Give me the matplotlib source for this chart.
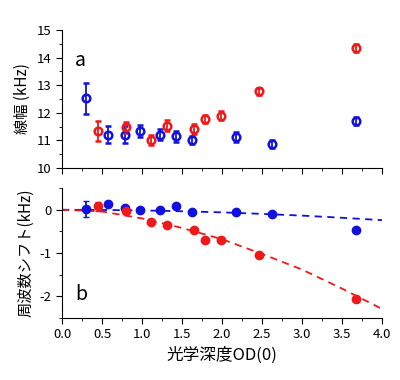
import matplotlib
matplotlib.use('Agg')
import matplotlib.pyplot as plt
from matplotlib.ticker import MultipleLocator

plt.rcParams['font.family'] = ['Noto Sans CJK JP', 'DejaVu Sans']
plt.rcParams['axes.unicode_minus'] = False

# (a) linewidth, kHz
blue_od = [0.30, 0.57, 0.79, 0.975, 1.23, 1.425, 1.625, 2.18, 2.63, 3.67]
blue_width = [12.52, 11.21, 11.21, 11.33, 11.21, 11.15, 11.01, 11.13, 10.87, 11.70]
blue_width_err = [0.55, 0.30, 0.30, 0.22, 0.20, 0.20, 0.15, 0.18, 0.15, 0.15]

red_od = [0.45, 0.80, 1.11, 1.31, 1.65, 1.79, 1.99, 2.46, 3.67]
red_width = [11.33, 11.47, 11.01, 11.53, 11.40, 11.78, 11.90, 12.78, 14.36]
red_width_err = [0.36, 0.20, 0.18, 0.20, 0.18, 0.15, 0.15, 0.12, 0.15]

# (b) frequency shift, kHz
blue_shift = [0.02, 0.13, 0.05, -0.01, 0.0, 0.09, -0.05, -0.05, -0.10, -0.47]
blue_shift_err = [0.19, 0.07, 0.04, 0.03, 0.03, 0.03, 0.03, 0.03, 0.03, 0.03]
red_shift = [0.08, -0.04, -0.29, -0.35, -0.47, -0.70, -0.70, -1.04, -2.05]
red_shift_err = [0.10, 0.05, 0.03, 0.03, 0.03, 0.03, 0.03, 0.03, 0.03]

# fit curves
fit_od = [0.0, 0.5, 1.0, 1.5, 2.0, 2.5, 3.0, 3.5, 4.0]
blue_fit = [0.0, -0.005, -0.015, -0.035, -0.06, -0.095, -0.135, -0.185, -0.24]
red_fit = [0.0, -0.04, -0.20, -0.42, -0.68, -1.02, -1.38, -1.82, -2.29]

fig = plt.figure(figsize=(4.0, 3.8), dpi=100)
ax1 = fig.add_axes([0.155, 0.558, 0.80, 0.363])
ax2 = fig.add_axes([0.155, 0.163, 0.80, 0.342])

for ax in (ax1, ax2):
    ax.spines['top'].set_visible(False)
    ax.spines['right'].set_visible(False)
    ax.set_xlim(0, 4.0)
    ax.xaxis.set_major_locator(MultipleLocator(0.5))
    ax.xaxis.set_minor_locator(MultipleLocator(0.25))
    ax.tick_params(which='major', length=4, labelsize=9.5)
    ax.tick_params(which='minor', length=2)

# top panel
ax1.errorbar(blue_od, blue_width, yerr=blue_width_err, fmt='o', color='#1010e0',
             mfc='none', mec='#1010e0', mew=1.8, ms=5.5, capsize=2.5, elinewidth=1.3)
ax1.errorbar(red_od, red_width, yerr=red_width_err, fmt='o', color='#f01818',
             mfc='none', mec='#f01818', mew=1.8, ms=5.5, capsize=2.5, elinewidth=1.3)
ax1.set_ylim(10, 15)
ax1.yaxis.set_major_locator(MultipleLocator(1))
ax1.yaxis.set_minor_locator(MultipleLocator(0.5))
ax1.tick_params(axis='x', labelbottom=False)
ax1.set_ylabel('線幅 (kHz)', fontsize=11)
ax1.text(0.04, 0.74, 'a', transform=ax1.transAxes, fontsize=14)

# bottom panel
ax2.plot(fit_od, blue_fit, '--', color='#1010e0', lw=1.3, dashes=(4, 3))
ax2.plot(fit_od, red_fit, '--', color='#f01818', lw=1.3, dashes=(4, 3))
ax2.errorbar(blue_od, blue_shift, yerr=blue_shift_err, fmt='o', color='#1010e0',
             ms=6, capsize=2.5, elinewidth=1.3)
ax2.errorbar(red_od, red_shift, yerr=red_shift_err, fmt='o', color='#f01818',
             ms=6, capsize=2.5, elinewidth=1.3)
ax2.set_ylim(-2.5, 0.5)
ax2.yaxis.set_major_locator(MultipleLocator(1))
ax2.yaxis.set_minor_locator(MultipleLocator(0.5))
ax2.set_ylabel('周波数シフト(kHz)', fontsize=11)
ax2.set_xlabel('光学深度OD(0)', fontsize=12)
ax2.text(0.04, 0.14, 'b', transform=ax2.transAxes, fontsize=14)

fig.align_ylabels([ax1, ax2])
fig.savefig('out.png', dpi=100)
